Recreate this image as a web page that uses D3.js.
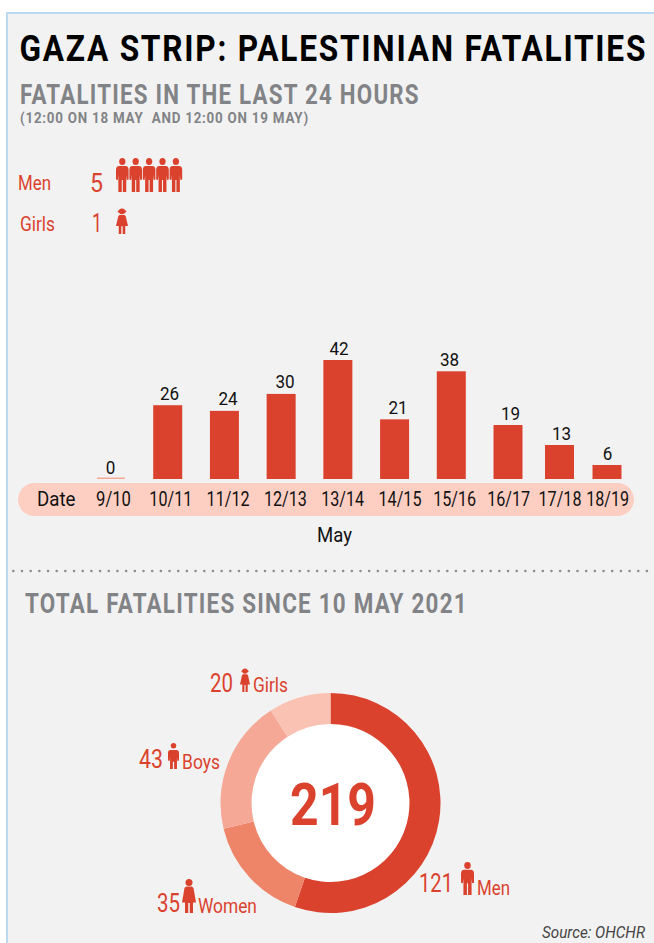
<!DOCTYPE html>
<html>
<head>
<meta charset="utf-8">
<script src="https://cdn.jsdelivr.net/npm/d3@7"></script>
<style>
  html, body { margin: 0; padding: 0; background: #fff; overflow: hidden; }
  text { font-family: Roboto, sans-serif; white-space: pre; }
</style>
</head>
<body>
<div id="chart"></div>
<script>
// Daily chart
var days = ["9/10", "10/11", "11/12", "12/13", "13/14", "14/15", "15/16", "16/17", "17/18", "18/19"];
var dailyFatalities = [0, 26, 24, 30, 42, 21, 38, 19, 13, 6];

// Last 24 hours
var last24Groups = ["Men", "Girls"];
var last24Values = [5, 1];

// Donut
var totalGroups = ["Men", "Women", "Boys", "Girls"];
var totalValues = [121, 35, 43, 20];
var totalColors = ["#db422d", "#ee8468", "#f6a896", "#fac2b2"];

var red = "#db422d";
var gray = "#818386";
var width = 654, height = 943;

var svg = d3.select("#chart").append("svg")
    .attr("width", width)
    .attr("height", height)
    .style("display", "block");

// Panel background with blue edge on top and left
svg.append("rect").attr("x", 7).attr("y", 13).attr("width", width - 7).attr("height", height - 13).attr("fill", "#f2f2f2");
svg.append("path").attr("d", "M7," + height + "V13H" + width).attr("fill", "none").attr("stroke", "#bcd9f0").attr("stroke-width", 2);

// Roboto is wider than the condensed face of the original, so squeeze text to its width
function squeeze(node, x, y, w) {
    var sx = w / node.getComputedTextLength();
    d3.select(node).attr("transform", "translate(" + x + "," + y + ") scale(" + sx + ",1)");
}

function label(x, y, str, size, w, color, weight, style, spacing) {
    var t = svg.append("text")
        .attr("font-size", size)
        .attr("fill", color || "#000")
        .attr("font-weight", weight || 400)
        .attr("font-style", style || "normal")
        .attr("letter-spacing", spacing || 0)
        .text(str);
    squeeze(t.node(), x, y, w);
    return t;
}

// People icons, drawn in a 14 x 34 box
var icons = {
    Men: "M3.5,8H10.5C12.8,8 14,9.5 14,12V21.5L12,22L11.4,17V34H7.6V22H6.4V34H2.6V17L2,22L0,21.5V12C0,9.5 1.2,8 3.5,8Z",
    Boys: "M3.5,9H10.5C12.8,9 14,10.5 14,13V23L12,23.5L11.4,19V34H7.8V24.5H6.2V34H2.6V19L2,23.5L0,23V13C0,10.5 1.2,9 3.5,9Z",
    Women: "M5,7.6H9C10.6,7.6 11.4,8.6 11.8,10.4L14,23.5H11V34H7.8V24H6.2V34H3V23.5H0L2.2,10.4C2.6,8.6 3.4,7.6 5,7.6Z",
    Girls: "M5,9H9C10.4,9 11,9.8 11.5,11.4L14,23.5H10.8V34H7.8V24H6.2V34H3.2V23.5H0L2.5,11.4C3,9.8 3.6,9 5,9Z"
};

function person(group, x, y, w, h) {
    var g = svg.append("g")
        .attr("transform", "translate(" + x + "," + y + ") scale(" + (w / 14) + "," + (h / 34) + ")")
        .attr("fill", red);
    g.append("circle").attr("cx", 7).attr("cy", group === "Girls" ? 4.4 : 3.6).attr("r", group === "Girls" ? 3.8 : 3.5);
    if (group === "Girls") {
        // hair brim
        g.append("ellipse").attr("cx", 7).attr("cy", 4.6).attr("rx", 5.2).attr("ry", 1.6);
    }
    g.append("path").attr("d", icons[group]);
}

// Headings
label(19.5, 60.5, "GAZA STRIP: PALESTINIAN FATALITIES", 36, 628, "#000", 700, "normal", 2);
label(20, 104, "FATALITIES IN THE LAST 24 HOURS", 27, 400, gray, 700, "normal", 1.5);
label(20, 123, "(12:00 ON 18 MAY  AND 12:00 ON 19 MAY)", 14, 289, gray, 700, "normal", 0.8);

// Last 24 hours block
label(18, 190, last24Groups[0], 20, 33, red);
label(90, 192, last24Values[0], 25, 13, red);
d3.range(last24Values[0]).forEach(function(i) {
    person("Men", 116 + i * 13.4, 158, 12.6, 34);
});
label(20, 231, last24Groups[1], 20, 35, red);
label(92, 232, last24Values[1], 25, 10, red);
d3.range(last24Values[1]).forEach(function(i) {
    person("Girls", 116 + i * 13.4, 208, 12, 26);
});

// Bars: the last two columns sit closer together in the original
var x = d3.scaleLinear()
    .domain([0, 7, 8, 9])
    .range([111, 508, 559.5, 607]);
// heights of the small bars in the original are a bit under linear
var y = d3.scaleLinear()
    .domain([0, 6, 13, 19, 42])
    .range([479, 465, 445, 425, 360]);
// labels were placed by hand in the original, they do not sit exactly over the bars
var xValue = d3.scaleLinear()
    .domain(d3.range(days.length))
    .range([110.5, 169.5, 228, 285, 339, 398, 449.5, 510.5, 561.5, 607.5]);
var xDay = d3.scaleLinear()
    .domain([0, 5, 6, 7, 8, 9])
    .range([113.5, 400, 454.7, 508.7, 560, 607.7]);
var barWidth = 29;

svg.selectAll(".bar")
    .data(dailyFatalities)
    .enter().append("rect")
    .attr("class", "bar")
    .attr("x", function(d, i) { return x(i) - barWidth / 2; })
    .attr("y", function(d) { return y(d); })
    .attr("width", barWidth)
    .attr("height", function(d) { return y(0) - y(d); })
    .attr("fill", red);

// Zero day still gets a thin line
svg.selectAll(".zero")
    .data(dailyFatalities.filter(function(d) { return d === 0; }))
    .enter().append("rect")
    .attr("x", x(0) - 14)
    .attr("y", y(0) - 1.5)
    .attr("width", 28)
    .attr("height", 1.5)
    .attr("fill", "#f6a896");

svg.selectAll(".value")
    .data(dailyFatalities)
    .enter().append("text")
    .attr("class", "value")
    .attr("text-anchor", "middle")
    .attr("font-size", 19)
    .attr("fill", "#111")
    .text(function(d) { return d; })
    .each(function(d, i) {
        squeeze(this, xValue(i), y(d) - 5.5, String(d).length * 9.6);
    });

// Date pill
svg.append("rect").attr("x", 18).attr("y", 483).attr("width", 616).attr("height", 33).attr("rx", 16.5).attr("fill", "#fdcfc3");
label(37, 505.5, "Date", 20, 38.5, "#111");

svg.selectAll(".day")
    .data(days)
    .enter().append("text")
    .attr("class", "day")
    .attr("text-anchor", "middle")
    .attr("font-size", 20)
    .attr("fill", "#111")
    .text(function(d) { return d; })
    .each(function(d, i) {
        squeeze(this, xDay(i), 506, d.length === 4 ? 35 : 43);
    });

label(317, 542, "May", 20, 35, "#111");

// Dotted divider
svg.append("line")
    .attr("x1", 13.3).attr("x2", 648).attr("y1", 571).attr("y2", 571)
    .attr("stroke", "#8a8c8e").attr("stroke-width", 2.6)
    .attr("stroke-linecap", "round").attr("stroke-dasharray", "0 8.68");

label(25, 613, "TOTAL FATALITIES SINCE 10 MAY 2021", 27, 443, gray, 700, "normal", 1.5);

// Donut
var pie = d3.pie().sort(null);
var arc = d3.arc().innerRadius(79).outerRadius(110);
var donut = svg.append("g").attr("transform", "translate(330.5,803)");
donut.append("circle").attr("r", 79).attr("fill", "#fff");
donut.selectAll("path")
    .data(pie(totalValues))
    .enter().append("path")
    .attr("d", arc)
    .attr("fill", function(d, i) { return totalColors[i]; });

label(290, 825, d3.sum(totalValues), 60, 86, red, 700);

// Donut labels
label(419, 892, totalValues[0], 25, 34, red);
person(totalGroups[0], 461, 862, 13, 33);
label(477, 895, totalGroups[0], 20, 33, red);

label(157, 912, totalValues[1], 25, 23, red);
person(totalGroups[1], 182, 879, 14, 34);
label(198, 913, totalGroups[1], 20, 59, red);

label(139, 768, totalValues[2], 25, 24, red);
person(totalGroups[2], 168, 743, 11, 26);
label(182, 769, totalGroups[2], 20, 38, red);

label(210, 692, totalValues[3], 25, 23, red);
person(totalGroups[3], 240, 668, 10, 24);
label(253, 692, totalGroups[3], 20, 35, red);

label(542, 938, "Source: OHCHR", 16, 103, "#444", 400, "italic");
</script>
</body>
</html>
